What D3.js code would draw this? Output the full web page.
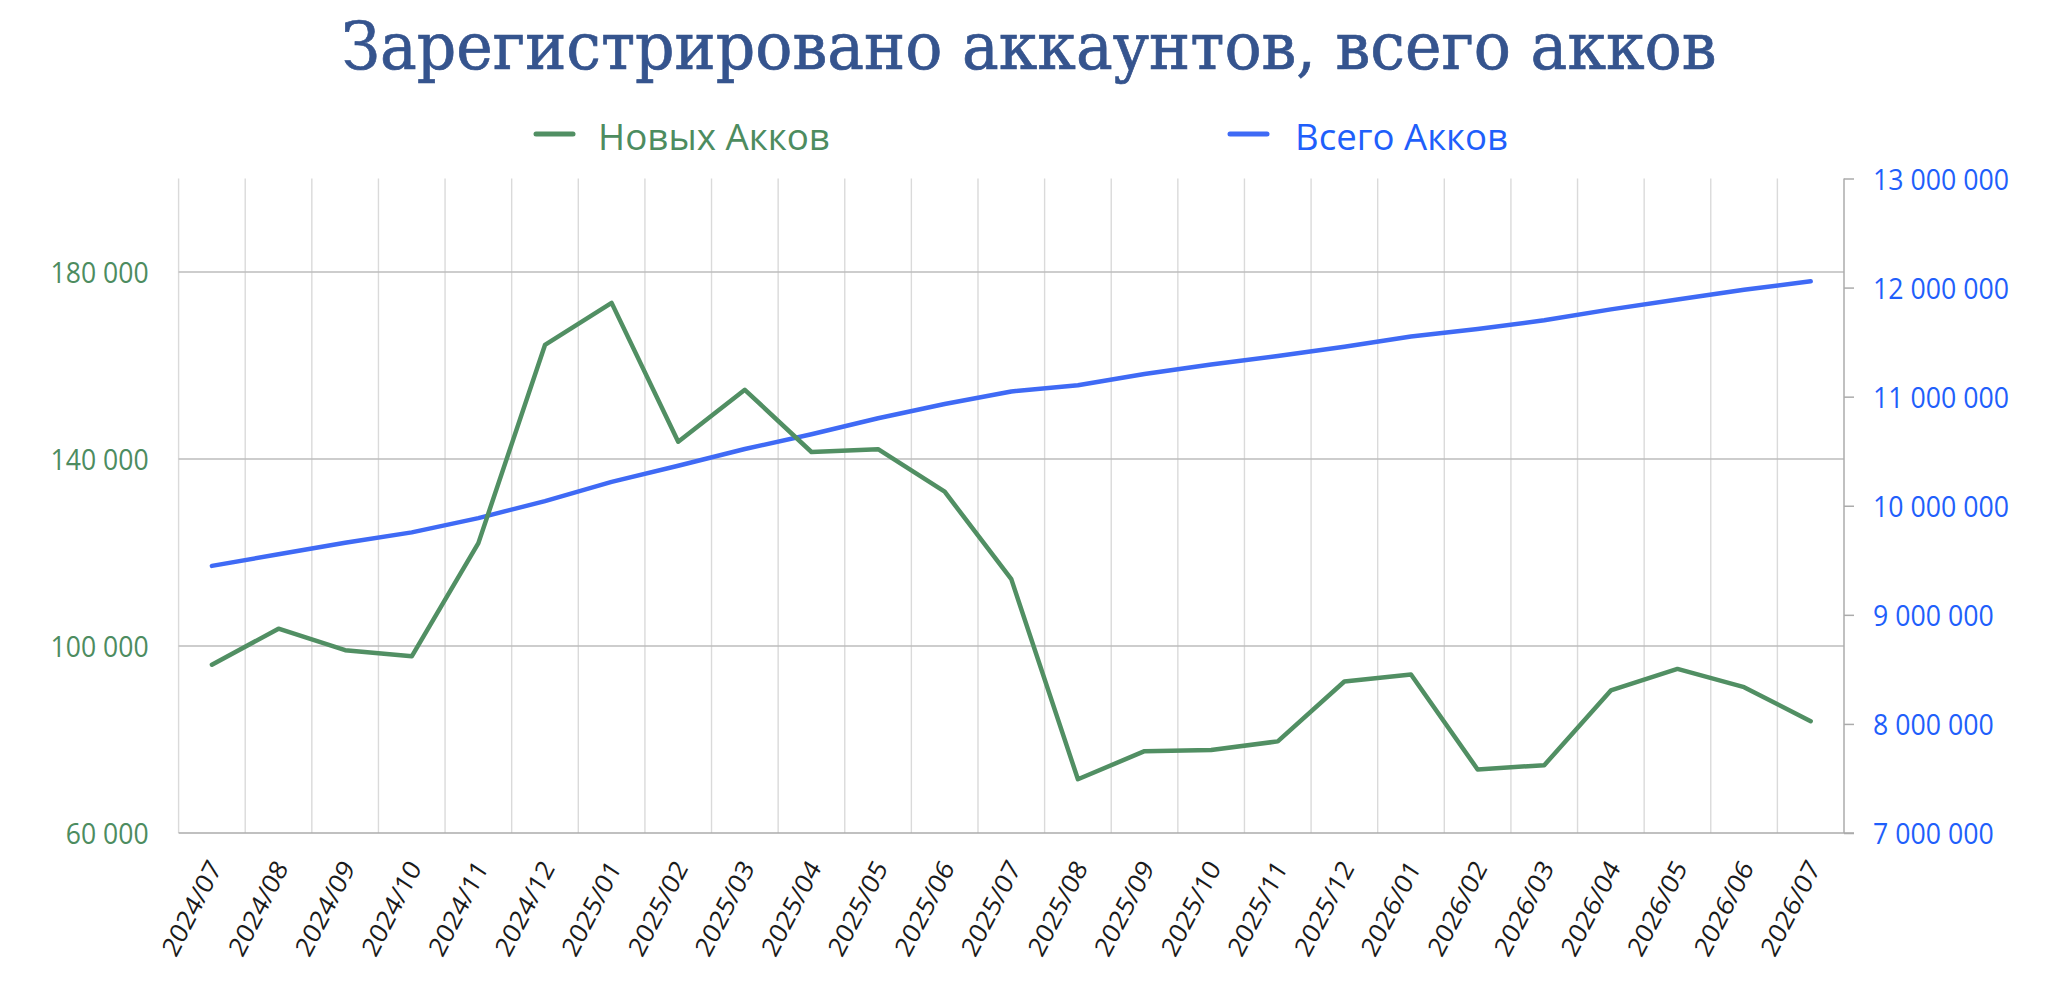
<!DOCTYPE html>
<html>
<head>
<meta charset="utf-8">
<script src="https://cdn.jsdelivr.net/npm/d3@7"></script>
<style>
  html, body { margin: 0; padding: 0; background: #ffffff; }
  svg { display: block; }
</style>
</head>
<body>
<svg id="chart" width="2048" height="991"></svg>
<script>
// ---------- DATA ----------
const titleText = "Зарегистрировано аккаунтов, всего акков";
const seriesNames = ["Новых Акков", "Всего Акков"];
const categories = [
  "2024/07","2024/08","2024/09","2024/10","2024/11","2024/12",
  "2025/01","2025/02","2025/03","2025/04","2025/05","2025/06",
  "2025/07","2025/08","2025/09","2025/10","2025/11","2025/12",
  "2026/01","2026/02","2026/03","2026/04","2026/05","2026/06","2026/07"
];
const newAccounts = [
  96000, 103700, 99100, 97800, 122000, 164400,
  173400, 143700, 154800, 141500, 142100, 133000,
  114300, 71500, 77500, 77750, 79600, 92400,
  93900, 73600, 74500, 90500, 95100, 91200, 83900
];
const totalAccounts = [
  9449000, 9555000, 9661000, 9756000, 9887000, 10043000,
  10219000, 10367000, 10520000, 10655000, 10802000, 10933000,
  11048000, 11104000, 11208000, 11294000, 11373000, 11458000,
  11552000, 11621000, 11700000, 11800000, 11890000, 11980000, 12058000
];
const leftDomain = [60000, 200000];
const leftTicks = [60000, 100000, 140000, 180000];
const rightDomain = [7000000, 13000000];
const rightTicks = [7000000, 8000000, 9000000, 10000000, 11000000, 12000000, 13000000];

// ---------- STYLE / LAYOUT ----------
const C = {
  green: "#518f63",
  greenText: "#4d8c5f",
  blue: "#3f6af5",
  blueText: "#1f5ffb",
  title: "#35548e",
  hGrid: "#bcbcbc",
  vGrid: "#dadada",
  axis: "#ababab"
};
const plot = { left: 178.6, right: 1844, top: 178.5, bottom: 833 };
const squeeze = 0.89; // horizontal compression of glyphs seen in reference

const svg = d3.select("#chart");
const fmt = d3.formatLocale({ decimal: ",", thousands: " ", grouping: [3], currency: ["", ""] }).format(",d");

const x = d3.scaleBand().domain(categories).range([plot.left, plot.right]).padding(0);
const cx = d => x(d) + x.bandwidth() / 2;
const yL = d3.scaleLinear().domain(leftDomain).range([plot.bottom, plot.top]);
const yR = d3.scaleLinear().domain(rightDomain).range([plot.bottom, plot.top]);

function squeezeText(sel, k) {
  sel.each(function () {
    const w = this.getComputedTextLength();
    this.setAttribute("textLength", w * k);
    this.setAttribute("lengthAdjust", "spacingAndGlyphs");
  });
}
function fitText(sel, target) {
  sel.attr("textLength", target).attr("lengthAdjust", "spacingAndGlyphs");
}

// ---------- TITLE ----------
svg.append("text")
  .attr("x", 1029).attr("y", 69)
  .attr("text-anchor", "middle")
  .attr("font-family", "'DejaVu Serif', serif")
  .attr("font-size", 65)
  .attr("fill", C.title)
  .attr("stroke", C.title).attr("stroke-width", 0.7)
  .text(titleText)
  .call(fitText, 1375);

// ---------- LEGEND ----------
const legendItems = [
  { name: seriesNames[0], color: C.green, textColor: C.greenText, x0: 536, tx: 598, w: 232 },
  { name: seriesNames[1], color: C.blue, textColor: C.blueText, x0: 1230, tx: 1295, w: 213 }
];
const lg = svg.append("g");
legendItems.forEach(it => {
  lg.append("line")
    .attr("x1", it.x0).attr("x2", it.x0 + 37)
    .attr("y1", 134).attr("y2", 134)
    .attr("stroke", it.color).attr("stroke-width", 5).attr("stroke-linecap", "round");
  lg.append("text")
    .attr("x", it.tx).attr("y", 150)
    .attr("font-family", "'Open Sans', sans-serif")
    .attr("font-size", 37)
    .attr("fill", it.textColor)
    .text(it.name)
    .call(fitText, it.w);
});

// ---------- GRID ----------
const grid = svg.append("g");
const bounds = categories.map(c => x(c));
grid.selectAll("line.v").data(bounds).enter().append("line")
  .attr("class", "v")
  .attr("x1", d => d).attr("x2", d => d)
  .attr("y1", plot.top).attr("y2", plot.bottom)
  .attr("stroke", C.vGrid).attr("stroke-width", 1.4);
grid.selectAll("line.h").data(leftTicks.filter(t => t !== leftDomain[0])).enter().append("line")
  .attr("class", "h")
  .attr("x1", plot.left).attr("x2", plot.right)
  .attr("y1", d => yL(d)).attr("y2", d => yL(d))
  .attr("stroke", C.hGrid).attr("stroke-width", 1.5);

// bottom axis line
svg.append("line")
  .attr("x1", plot.left).attr("x2", plot.right + 10)
  .attr("y1", plot.bottom).attr("y2", plot.bottom)
  .attr("stroke", C.axis).attr("stroke-width", 1.5);

// ---------- LEFT AXIS ----------
const leftAxis = d3.axisLeft(yL).tickValues(leftTicks).tickFormat(fmt).tickSize(0).tickPadding(30);
const gL = svg.append("g").attr("transform", `translate(${plot.left},0)`).call(leftAxis);
gL.select(".domain").remove();
gL.selectAll("text")
  .attr("font-family", "'Open Sans', sans-serif")
  .attr("font-size", 30)
  .attr("fill", C.greenText)
  .attr("dy", "0.36em")
  .call(squeezeText, 0.885);

// ---------- RIGHT AXIS ----------
const rightAxis = d3.axisRight(yR).tickValues(rightTicks).tickFormat(fmt).tickSize(10).tickPadding(19);
const gR = svg.append("g").attr("transform", `translate(${plot.right},0)`).call(rightAxis);
gR.select(".domain").attr("stroke", C.axis).attr("stroke-width", 1.5).attr("d", `M0,${plot.top}V${plot.bottom}`);
gR.selectAll(".tick line").attr("stroke", C.axis).attr("stroke-width", 1.5);
gR.selectAll("text")
  .attr("font-family", "'Open Sans', sans-serif")
  .attr("font-size", 30)
  .attr("fill", C.blueText)
  .attr("dy", "0.36em")
  .call(squeezeText, 0.89);

// ---------- X AXIS LABELS ----------
const gx = svg.append("g");
gx.selectAll("text").data(categories).enter().append("text")
  .attr("transform", d => `translate(${cx(d) + 10.5},868) scale(${squeeze},1) rotate(-60)`)
  .attr("text-anchor", "end")
  .attr("font-family", "'Open Sans', sans-serif")
  .attr("font-size", 27.5)
  .attr("fill", "#1a1a1a")
  .text(d => d);

// ---------- LINES ----------
const lineL = d3.line().x((d, i) => cx(categories[i])).y(d => yL(d));
const lineR = d3.line().x((d, i) => cx(categories[i])).y(d => yR(d));

svg.append("path").datum(totalAccounts)
  .attr("d", lineR)
  .attr("fill", "none").attr("stroke", C.blue).attr("stroke-width", 4.5)
  .attr("stroke-linejoin", "round").attr("stroke-linecap", "round");

svg.append("path").datum(newAccounts)
  .attr("d", lineL)
  .attr("fill", "none").attr("stroke", C.green).attr("stroke-width", 4.5)
  .attr("stroke-linejoin", "round").attr("stroke-linecap", "round");
</script>
</body>
</html>
